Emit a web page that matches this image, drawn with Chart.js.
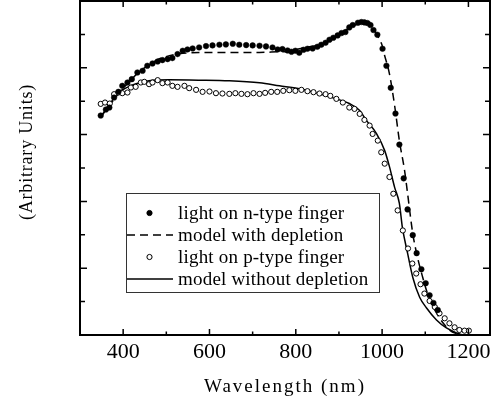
<!DOCTYPE html>
<html>
<head>
<meta charset="utf-8">
<script src="https://cdn.jsdelivr.net/npm/chart.js@4.4.1/dist/chart.umd.min.js"></script>
<style>
  html, body { margin: 0; padding: 0; background: #fff; }
  #wrap { width: 497px; height: 401px; }
</style>
</head>
<body>
<div id="wrap"><canvas id="chart" width="497" height="401"></canvas></div>
<script>
"use strict";

/* ============================================================
   DATA
============================================================ */
const seriesLabels = [
  "light on n-type finger",
  "model with depletion",
  "light on p-type finger",
  "model without depletion"
];

// light on n-type finger (filled dots)
const nTypeWl = [348,360,368,379,389,398,410,420,433,445,456,468,480,491,503,514,526,538,549,561,
  576,592,607,623,638,654,669,685,700,716,731,746,758,769,781,790,799,808,818,827,
  839,850,859,869,878,887,897,906,915,924,932,944,952,959,966,973,980,989,1001,1010,
  1020,1031,1040,1050,1059,1071,1080,1091,1101,1110,1119,1129];
const nTypeVal = [6.57,6.75,6.81,7.11,7.28,7.46,7.56,7.66,7.86,7.91,8.06,8.13,8.19,8.23,8.26,8.29,8.41,8.51,8.55,8.58,
  8.61,8.65,8.67,8.69,8.70,8.72,8.69,8.68,8.67,8.66,8.64,8.61,8.55,8.56,8.52,8.48,8.51,8.45,8.54,8.57,
  8.58,8.63,8.69,8.75,8.84,8.90,8.97,9.04,9.07,9.21,9.28,9.35,9.37,9.36,9.34,9.28,9.13,8.99,8.57,8.06,
  7.40,6.63,5.70,4.69,3.76,2.99,2.45,1.97,1.55,1.19,0.96,0.75];

// model with depletion (dashed)
const depWl = [347,368,391,414,437,460,484,507,530,553,576,623,669,716,762,785,808,832,855,878,
  901,924,948,961,975,987,999,1006,1017,1029,1040,1052,1059,1071,1082,1094,1105,1126,1156,1180];
const depVal = [6.51,6.87,7.25,7.58,7.88,8.09,8.27,8.36,8.42,8.45,8.46,8.46,8.46,8.46,8.48,8.49,8.57,8.63,8.69,8.81,
  9.01,9.19,9.34,9.39,9.31,9.01,8.71,8.36,7.82,6.87,5.82,4.93,4.24,3.04,2.33,1.73,1.25,0.66,0.15,0];

// light on p-type finger (open circles)
const pTypeWl = [348,358,369,379,389,398,410,418,429,441,449,460,468,480,491,503,514,526,542,553,
  569,584,600,615,630,646,660,674,688,702,716,729,743,757,771,785,799,813,827,841,
  855,869,880,894,909,924,936,948,959,971,978,990,998,1006,1017,1026,1036,1048,1060,1070,
  1079,1089,1098,1110,1122,1133,1145,1156,1168,1179,1191,1201];
const pTypeVal = [6.92,6.96,6.93,7.21,7.26,7.24,7.26,7.41,7.43,7.56,7.58,7.51,7.56,7.63,7.54,7.56,7.46,7.43,7.46,7.39,
  7.34,7.28,7.29,7.24,7.23,7.22,7.24,7.22,7.21,7.24,7.22,7.25,7.28,7.28,7.31,7.33,7.31,7.34,7.30,7.27,
  7.23,7.21,7.16,7.07,6.96,6.81,6.77,6.62,6.44,6.27,6.02,5.82,5.47,5.13,4.73,4.23,3.73,3.13,2.59,2.14,
  1.84,1.52,1.24,1.02,0.84,0.65,0.50,0.35,0.23,0.15,0.13,0.13];

// model without depletion (solid)
const noDepWl = [347,368,379,391,407,430,460,507,576,646,716,762,808,855,901,924,948,964,987,1006,
  1017,1029,1040,1047,1059,1071,1087,1103,1126,1149,1173,1187];
const noDepVal = [6.51,6.90,7.10,7.28,7.40,7.52,7.61,7.64,7.63,7.61,7.55,7.46,7.37,7.22,7.04,6.93,6.72,6.42,6.03,5.52,
  5.04,4.42,3.94,3.22,2.45,1.73,1.13,0.81,0.45,0.21,0.06,0];

// axis ticks
const xTickLabels = [400, 600, 800, 1000, 1200];
const xMinorTicks = [500, 700, 900, 1100];
const yMajorTicks = [2, 4, 6, 8];
const yMinorTicks = [1, 3, 5, 7, 9];

/* ============================================================
   HELPERS
============================================================ */
const SERIF = "'Liberation Serif', 'Times New Roman', serif";

function toPoints(xs, ys) {
  return xs.map((v, i) => ({ x: v, y: ys[i] }));
}

function noScalePadding(s) {
  s.paddingLeft = 0;
  s.paddingRight = 0;
  s.paddingTop = 0;
  s.paddingBottom = 0;
}

/* ============================================================
   PLUGINS
============================================================ */
// box round the plot with inward ticks on all four sides
const framePlugin = {
  id: "frame",
  afterDraw(chart) {
    const { ctx, chartArea: a, scales: { x, y } } = chart;
    ctx.save();
    ctx.strokeStyle = "#000";
    ctx.lineWidth = 1.5;
    ctx.beginPath();
    const xTick = (v, len) => {
      const px = x.getPixelForValue(v);
      ctx.moveTo(px, a.bottom); ctx.lineTo(px, a.bottom - len);
      ctx.moveTo(px, a.top); ctx.lineTo(px, a.top + len);
    };
    const yTick = (v, len) => {
      const py = y.getPixelForValue(v);
      ctx.moveTo(a.left, py); ctx.lineTo(a.left + len, py);
      ctx.moveTo(a.right, py); ctx.lineTo(a.right - len, py);
    };
    xTickLabels.forEach(v => xTick(v, 6));
    xMinorTicks.forEach(v => xTick(v, 3.5));
    yMajorTicks.forEach(v => yTick(v, 7));
    yMinorTicks.forEach(v => yTick(v, 5));
    ctx.stroke();
    ctx.lineWidth = 2;
    ctx.strokeRect(a.left, a.top, a.right - a.left, a.bottom - a.top);
    ctx.restore();
  }
};

// legend box drawn inside the plot area
const legendBoxPlugin = {
  id: "legendBox",
  afterDatasetsDraw(chart, args, opts) {
    const { ctx, chartArea: a } = chart;
    const left = a.left + opts.left, top = a.top + opts.top;
    ctx.save();
    ctx.fillStyle = "#fff";
    ctx.fillRect(left, top, opts.width, opts.height);
    ctx.strokeStyle = "#333";
    ctx.lineWidth = 1;
    ctx.strokeRect(left + 0.5, top + 0.5, opts.width, opts.height);

    ctx.font = opts.fontSize + "px " + SERIF;
    ctx.letterSpacing = opts.spacing;
    ctx.textBaseline = "middle";
    ctx.fillStyle = "#000";
    chart.data.datasets.forEach((ds, i) => {
      const cy = top + opts.firstRow + i * opts.rowGap;
      if (ds.showLine) {
        ctx.strokeStyle = "#000";
        ctx.lineWidth = ds.borderWidth;
        ctx.setLineDash(ds.borderDash || []);
        ctx.beginPath();
        ctx.moveTo(left + 1, cy);
        ctx.lineTo(left + opts.symbolWidth, cy);
        ctx.stroke();
        ctx.setLineDash([]);
      } else {
        ctx.beginPath();
        ctx.arc(left + opts.symbolWidth / 2, cy, 2.6, 0, Math.PI * 2);
        ctx.fillStyle = ds.backgroundColor;
        ctx.fill();
        ctx.lineWidth = 1;
        ctx.strokeStyle = "#000";
        ctx.stroke();
        ctx.fillStyle = "#000";
      }
      ctx.fillText(ds.label, left + opts.textOffset, cy + 1);
    });
    ctx.restore();
  }
};

// axis titles
const axisTitlePlugin = {
  id: "axisTitles",
  afterDraw(chart, args, opts) {
    const { ctx, chartArea: a } = chart;
    ctx.save();
    ctx.fillStyle = "#000";
    ctx.textAlign = "center";
    ctx.textBaseline = "middle";
    ctx.font = opts.xFontSize + "px " + SERIF;
    ctx.letterSpacing = opts.xSpacing;
    ctx.fillText(opts.xText, (a.left + a.right) / 2, opts.xTitleY);
    ctx.font = opts.yFontSize + "px " + SERIF;
    ctx.letterSpacing = opts.ySpacing;
    ctx.translate(opts.yTitleX, opts.yTitleY);
    ctx.rotate(-Math.PI / 2);
    ctx.fillText(opts.yText, 0, 0);
    ctx.restore();
  }
};

/* ============================================================
   CHART
============================================================ */
new Chart(document.getElementById("chart").getContext("2d"), {
  type: "scatter",
  data: {
    datasets: [
      {
        label: seriesLabels[0],
        data: toPoints(nTypeWl, nTypeVal),
        showLine: false,
        pointRadius: 2.8,
        pointBackgroundColor: "#000",
        pointBorderColor: "#000",
        backgroundColor: "#000",
        pointBorderWidth: 0.5,
        order: 1
      },
      {
        label: seriesLabels[1],
        data: toPoints(depWl, depVal),
        showLine: true,
        borderColor: "#000",
        borderWidth: 1.5,
        borderDash: [8, 5],
        pointRadius: 0,
        cubicInterpolationMode: "monotone",
        order: 3
      },
      {
        label: seriesLabels[2],
        data: toPoints(pTypeWl, pTypeVal),
        showLine: false,
        pointRadius: 2.6,
        pointBackgroundColor: "#fff",
        pointBorderColor: "#000",
        backgroundColor: "#fff",
        pointBorderWidth: 1,
        order: 2
      },
      {
        label: seriesLabels[3],
        data: toPoints(noDepWl, noDepVal),
        showLine: true,
        borderColor: "#000",
        borderWidth: 1.5,
        pointRadius: 0,
        cubicInterpolationMode: "monotone",
        order: 4
      }
    ]
  },
  options: {
    responsive: false,
    animation: false,
    layout: { autoPadding: false, padding: { left: 0, right: 7, top: 1, bottom: 0 } },
    plugins: {
      legend: { display: false },
      tooltip: { enabled: false },
      legendBox: {
        left: 46, top: 192, width: 253, height: 99,
        firstRow: 20, rowGap: 22, symbolWidth: 47, textOffset: 52,
        fontSize: 19, spacing: "0.2px"
      },
      axisTitles: {
        xText: "Wavelength (nm)", yText: "(Arbitrary Units)",
        xFontSize: 19, yFontSize: 18, xSpacing: "2px", ySpacing: "0.8px",
        xTitleY: 387, yTitleX: 27, yTitleY: 152
      }
    },
    scales: {
      x: {
        type: "linear",
        min: 300,
        max: 1250,
        grid: { display: false, drawTicks: false },
        border: { display: false },
        ticks: {
          stepSize: 100,
          includeBounds: false,
          padding: 4,
          autoSkip: false,
          maxRotation: 0,
          minRotation: 0,
          color: "#000",
          font: { family: SERIF, size: 22 },
          callback: v => (xTickLabels.includes(v) ? String(v) : "")
        },
        afterFit: s => { s.height = 66; noScalePadding(s); }
      },
      y: {
        type: "linear",
        min: 0,
        max: 10,
        grid: { display: false, drawTicks: false },
        border: { display: false },
        ticks: { display: false },
        afterFit: s => { s.width = 80; noScalePadding(s); }
      }
    }
  },
  plugins: [framePlugin, legendBoxPlugin, axisTitlePlugin]
});
</script>
</body>
</html>
